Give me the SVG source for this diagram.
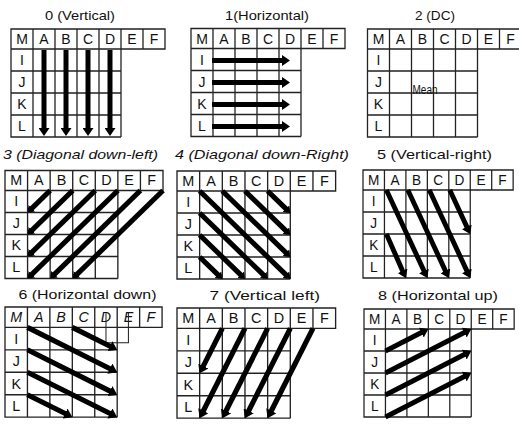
<svg xmlns="http://www.w3.org/2000/svg" xmlns:xlink="http://www.w3.org/1999/xlink" width="519" height="426" viewBox="0 0 519 426">
<style>
.g{fill:none;stroke:#222;stroke-width:1.3}
.t{font-family:"Liberation Sans",Arial,sans-serif;font-size:14px;fill:#111;text-anchor:middle}
.it{font-style:italic}
.ttl{font-family:"Liberation Sans",Arial,sans-serif;font-size:13.5px;fill:#111}
.a{stroke:#000;stroke-width:5;fill:none;marker-end:url(#arr)}
.as{stroke:#000;stroke-width:5;fill:none;marker-end:url(#arrS)}
.thin{stroke:#222;stroke-width:1;fill:none}
</style>
<defs>
<marker id="arr" viewBox="0 0 8 11" markerUnits="userSpaceOnUse" markerWidth="8" markerHeight="11" refX="4" refY="5.5" orient="auto"><path d="M0,0L8,5.5L0,11Z" fill="#000"/></marker>
<marker id="arrS" viewBox="0 0 6 9" markerUnits="userSpaceOnUse" markerWidth="6" markerHeight="9" refX="3" refY="4.5" orient="auto"><path d="M0,0L6,4.5L0,9Z" fill="#000"/></marker>
<path id="grid" class="g" d="M0,0H154V20H0Z M22,0V108 M44,0V108 M66,0V108 M88,0V108 M110,0V108 M132,0V20 M0,20V108H110 M0,42H110 M0,64H110 M0,86H110"/>
</defs>
<rect width="519" height="426" fill="#fff"/>

<g id="titles">
<text class="ttl" x="45" y="19.5" textLength="70" lengthAdjust="spacingAndGlyphs">0 (Vertical)</text>
<text class="ttl" x="225" y="19.5" textLength="84" lengthAdjust="spacingAndGlyphs">1(Horizontal)</text>
<text class="ttl" x="415" y="19.5" textLength="40" lengthAdjust="spacingAndGlyphs">2 (DC)</text>
<text class="ttl it" x="3" y="158.5" textLength="155" lengthAdjust="spacingAndGlyphs">3 (Diagonal down-left)</text>
<text class="ttl it" x="175" y="158.5" textLength="174" lengthAdjust="spacingAndGlyphs">4 (Diagonal down-Right)</text>
<text class="ttl" x="377" y="158.5" textLength="115" lengthAdjust="spacingAndGlyphs">5 (Vertical-right)</text>
<text class="ttl" x="18.5" y="299" textLength="138" lengthAdjust="spacingAndGlyphs">6 (Horizontal down)</text>
<text class="ttl" x="209.5" y="299.5" textLength="110.5" lengthAdjust="spacingAndGlyphs">7 (Vertical left)</text>
<text class="ttl" x="378" y="299.5" textLength="120" lengthAdjust="spacingAndGlyphs">8 (Horizontal up)</text>
</g>

<g id="panel0" transform="translate(11,29)">
<use xlink:href="#grid"/>
<g class="t"><text x="11" y="15">M</text><text x="33" y="15">A</text><text x="55" y="15">B</text><text x="77" y="15">C</text><text x="99" y="15">D</text><text x="121" y="15">E</text><text x="143" y="15">F</text><text x="11" y="36">I</text><text x="11" y="58">J</text><text x="11" y="80">K</text><text x="11" y="102">L</text></g>
</g>
<g id="panel1" transform="translate(191,28.5)">
<use xlink:href="#grid"/>
<g class="t"><text x="11" y="15">M</text><text x="33" y="15">A</text><text x="55" y="15">B</text><text x="77" y="15">C</text><text x="99" y="15">D</text><text x="121" y="15">E</text><text x="143" y="15">F</text><text x="11" y="36">I</text><text x="11" y="58">J</text><text x="11" y="80">K</text><text x="11" y="102">L</text></g>
</g>
<g id="panel2" transform="translate(367.5,29)">
<use xlink:href="#grid"/>
<g class="t"><text x="11" y="15">M</text><text x="33" y="15">A</text><text x="55" y="15">B</text><text x="77" y="15">C</text><text x="99" y="15">D</text><text x="121" y="15">E</text><text x="143" y="15">F</text><text x="11" y="36">I</text><text x="11" y="58">J</text><text x="11" y="80">K</text><text x="11" y="102">L</text></g>
<text x="45" y="65" font-family="Liberation Sans, Arial, sans-serif" font-size="12" fill="#111" textLength="25" lengthAdjust="spacingAndGlyphs">Mean</text>
</g>
<g id="panel3" transform="translate(5,170.5) scale(1.026,1)">
<use xlink:href="#grid"/>
<g class="t"><text x="11" y="15">M</text><text x="33" y="15">A</text><text x="55" y="15">B</text><text x="77" y="15">C</text><text x="99" y="15">D</text><text x="121" y="15">E</text><text x="143" y="15">F</text><text x="11" y="36">I</text><text x="11" y="58">J</text><text x="11" y="80">K</text><text x="11" y="102">L</text></g>
</g>
<g id="panel4" transform="translate(177,171) scale(1.03,1)">
<use xlink:href="#grid"/>
<g class="t"><text x="11" y="15">M</text><text x="33" y="15">A</text><text x="55" y="15">B</text><text x="77" y="15">C</text><text x="99" y="15">D</text><text x="121" y="15">E</text><text x="143" y="15">F</text><text x="11" y="36">I</text><text x="11" y="58">J</text><text x="11" y="80">K</text><text x="11" y="102">L</text></g>
</g>
<g id="panel5" transform="translate(363,170) scale(0.975,1)">
<use xlink:href="#grid"/>
<g class="t"><text x="11" y="15">M</text><text x="33" y="15">A</text><text x="55" y="15">B</text><text x="77" y="15">C</text><text x="99" y="15">D</text><text x="121" y="15">E</text><text x="143" y="15">F</text><text x="11" y="36">I</text><text x="11" y="58">J</text><text x="11" y="80">K</text><text x="11" y="102">L</text></g>
</g>
<g id="panel6" transform="translate(5,307) scale(1.02,1.02)">
<use xlink:href="#grid"/>
<g class="t it"><text x="11" y="15">M</text><text x="33" y="15">A</text><text x="55" y="15">B</text><text x="77" y="15">C</text><text x="99" y="15">D</text><text x="121" y="15">E</text><text x="143" y="15">F</text></g>
<g class="t"><text x="11" y="36">I</text><text x="11" y="58">J</text><text x="11" y="80">K</text><text x="11" y="102">L</text></g>
<path class="thin" d="M99,6V35H121V6"/>
</g>
<g id="panel7" transform="translate(177,308) scale(1.03,1.02)">
<use xlink:href="#grid"/>
<g class="t"><text x="11" y="15">M</text><text x="33" y="15">A</text><text x="55" y="15">B</text><text x="77" y="15">C</text><text x="99" y="15">D</text><text x="121" y="15">E</text><text x="143" y="15">F</text><text x="11" y="36">I</text><text x="11" y="58">J</text><text x="11" y="80">K</text><text x="11" y="102">L</text></g>
</g>
<g id="panel8" transform="translate(364,309) scale(0.975,1)">
<use xlink:href="#grid"/>
<g class="t"><text x="11" y="15">M</text><text x="33" y="15">A</text><text x="55" y="15">B</text><text x="77" y="15">C</text><text x="99" y="15">D</text><text x="121" y="15">E</text><text x="143" y="15">F</text><text x="11" y="36">I</text><text x="11" y="58">J</text><text x="11" y="80">K</text><text x="11" y="102">L</text></g>
</g>

<g id="connectors">
<g transform="translate(11,29)">
<path class="a" d="M33,21V103"/><path class="a" d="M55,21V103"/><path class="a" d="M77,21V103"/><path class="a" d="M99,21V103"/>
</g>
<g transform="translate(191,28.5)">
<path class="a" d="M21,32H95"/><path class="a" d="M21,54H95"/><path class="a" d="M21,76H95"/><path class="a" d="M21,98H95"/>
</g>
<g transform="translate(5,170.5) scale(1.026,1)">
<path class="as" d="M44,20L24.12,39.88"/><path class="as" d="M66,20L24.12,61.88"/><path class="as" d="M88,20L24.12,83.88"/><path class="as" d="M110,20L24.12,105.88"/><path class="as" d="M132,20L46.12,105.88"/><path class="as" d="M154,20L68.12,105.88"/>
</g>
<g transform="translate(177,171) scale(1.03,1)">
<path class="as" d="M88,20L107.88,39.88"/><path class="as" d="M66,20L107.88,61.88"/><path class="as" d="M44,20L107.88,83.88"/><path class="as" d="M22,20L107.88,105.88"/><path class="as" d="M22,42L85.88,105.88"/><path class="as" d="M22,64L63.88,105.88"/><path class="as" d="M22,86L41.88,105.88"/>
</g>
<g transform="translate(363,170) scale(0.975,1)">
<path class="a" d="M24,20L64.21,104.42"/><path class="a" d="M46,20L86.21,104.42"/><path class="a" d="M68,20L108.21,104.42"/><path class="a" d="M89,20L108.21,60.42"/><path class="a" d="M24,64L42.21,104.42"/>
</g>
<g transform="translate(5,307) scale(1.02,1.02)">
<path class="a" d="M22,20L106.42,62.21"/><path class="a" d="M66,20L106.42,40.21"/><path class="a" d="M22,42L106.42,84.21"/><path class="a" d="M22,64L106.42,106.21"/><path class="a" d="M22,86L62.42,106.21"/>
</g>
<g transform="translate(177,308) scale(1.03,1.02)">
<path class="a" d="M44,20L23.79,60.42"/><path class="a" d="M66,20L23.79,104.42"/><path class="a" d="M88,20L45.79,104.42"/><path class="a" d="M110,20L67.79,104.42"/><path class="a" d="M132,20L89.79,104.42"/>
</g>
<g transform="translate(364,309) scale(0.975,1)">
<path class="a" d="M22,42L62.42,21.79"/><path class="a" d="M22,64L106.42,21.79"/><path class="a" d="M22,86L106.42,43.79"/><path class="a" d="M22,108L106.42,65.79"/>
</g>
</g>
</svg>
